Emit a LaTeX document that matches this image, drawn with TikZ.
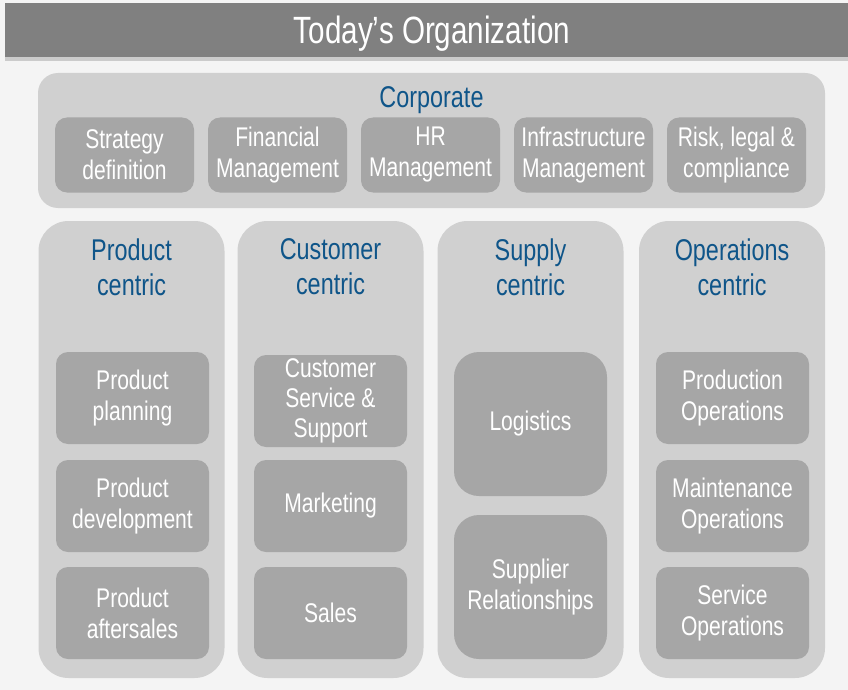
\documentclass[tikz,border=0pt]{standalone}
\usepackage{fontspec}
\setmainfont[FakeStretch=0.78]{Liberation Sans}
\usetikzlibrary{shadows}
\definecolor{pagegray}{HTML}{F4F4F4}
\definecolor{bandgray}{HTML}{808080}
\definecolor{panelgray}{HTML}{D0D0D0}
\definecolor{unitgray}{HTML}{A6A6A6}
\definecolor{headblue}{HTML}{0F5589}

\begin{document}
\begin{tikzpicture}[x=1pt, y=-1pt,
    panel/.style={fill=panelgray, inner sep=0pt},
    unit/.style={fill=unitgray, rounded corners=12pt, text=white, align=center, inner sep=0pt,
        minimum width=153pt, minimum height=92pt, font=\fontsize{27}{31}\selectfont},
    heading/.style={text=headblue, align=center, font=\fontsize{30}{35}\selectfont}]
    \fill[pagegray] (0,0) rectangle (848,690);
    \useasboundingbox (0,0) rectangle (848,690);
    % title band
    \node[fill=bandgray, inner sep=0pt, minimum width=843pt, minimum height=54pt,
        drop shadow={shadow xshift=0pt, shadow yshift=-4pt, opacity=0.35}] (band) at (426.5,30) {};
    \node[text=white, font=\fontsize{38}{42}\selectfont] (title) at (432,34) {Today's Organization};
    % corporate
    \node[panel, rounded corners=20pt, minimum width=787pt, minimum height=135pt] (corp) at (431.5,140.5) {};
    \node[heading] (corplabel) at (431.5,100) {Corporate};
    \node[unit, minimum width=139pt, minimum height=75pt] (strategy) at (124.5,155) {Strategy\\definition};
    \node[unit, minimum width=139pt, minimum height=75pt] (finance) at (277.5,155) {Financial\\Management};
    \node[unit, minimum width=139pt, minimum height=75pt] (hr) at (430.5,155) {HR\\Management};
    \node[unit, minimum width=139pt, minimum height=75pt] (infra) at (583.5,155) {Infrastructure\\Management};
    \node[unit, minimum width=139pt, minimum height=75pt] (risk) at (736.5,155) {Risk, legal \&\\compliance};
    % columns
    \node[panel, rounded corners=30pt, minimum width=186pt, minimum height=457pt] (product) at (131.5,449.5) {};
    \node[panel, rounded corners=30pt, minimum width=186pt, minimum height=457pt] (customer) at (330.5,449.5) {};
    \node[panel, rounded corners=30pt, minimum width=186pt, minimum height=457pt] (supply) at (530.5,449.5) {};
    \node[panel, rounded corners=30pt, minimum width=186pt, minimum height=457pt] (operations) at (732,449.5) {};
    \node[heading] (productlabel) at (131.5,267) {Product\\centric};
    \node[heading] (customerlabel) at (330.5,267) {Customer\\centric};
    \node[heading] (supplylabel) at (530.5,267) {Supply\\centric};
    \node[heading] (operationslabel) at (732,267) {Operations\\centric};
    % product centric
    \node[unit] (planning) at (132.5,398) {Product\\planning};
    \node[unit] (development) at (132.5,506) {Product\\development};
    \node[unit] (aftersales) at (132.5,613) {Product\\aftersales};
    % customer centric
    \node[unit, font=\fontsize{27}{30}\selectfont] (service) at (330.5,401) {Customer\\Service \&\\Support};
    \node[unit] (marketing) at (330.5,506) {Marketing};
    \node[unit] (sales) at (330.5,613) {Sales};
    % supply centric
    \node[unit, rounded corners=25pt, minimum height=144pt] (logistics) at (530.5,424) {Logistics};
    \node[unit, rounded corners=25pt, minimum height=144pt] (supplier) at (530.5,587) {Supplier\\Relationships};
    % operations centric
    \node[unit] (production) at (732.5,398) {Production\\Operations};
    \node[unit] (maintenance) at (732.5,506) {Maintenance\\Operations};
    \node[unit] (serviceops) at (732.5,613) {Service\\Operations};
\end{tikzpicture}
\end{document}
